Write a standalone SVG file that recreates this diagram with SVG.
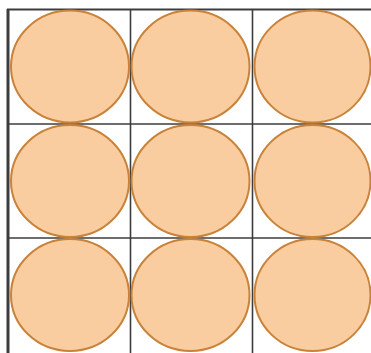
<svg xmlns="http://www.w3.org/2000/svg" width="371" height="353" viewBox="0 0 371 353">
<style>
.grid{stroke:#3c3c3c;stroke-width:1.6;fill:none}
.c{fill:#f9cd9f;stroke:#c8823a;stroke-width:2}
</style>
<rect width="371" height="353" fill="#ffffff"/>
<g id="connectors">
<line class="grid" x1="8" y1="9" x2="8" y2="353" style="stroke-width:3"/>
<line class="grid" x1="130.5" y1="9" x2="130.5" y2="353"/>
<line class="grid" x1="252.5" y1="9" x2="252.5" y2="353"/>
<line class="grid" x1="7" y1="9.5" x2="371" y2="9.5" style="stroke-width:2"/>
<line class="grid" x1="7" y1="124" x2="371" y2="124"/>
<line class="grid" x1="7" y1="238" x2="371" y2="238"/>
</g>
<g id="n1"><ellipse class="c" cx="70" cy="66.5" rx="59" ry="56"/></g>
<g id="n2"><ellipse class="c" cx="190.5" cy="66.5" rx="59" ry="56"/></g>
<g id="n3"><ellipse class="c" cx="312.5" cy="66.5" rx="58" ry="56"/></g>
<g id="n4"><ellipse class="c" cx="70" cy="181" rx="59" ry="56"/></g>
<g id="n5"><ellipse class="c" cx="190.5" cy="181" rx="59" ry="56"/></g>
<g id="n6"><ellipse class="c" cx="312.5" cy="181" rx="58" ry="56"/></g>
<g id="n7"><ellipse class="c" cx="70" cy="295" rx="59" ry="56"/></g>
<g id="n8"><ellipse class="c" cx="190.5" cy="295" rx="59" ry="56"/></g>
<g id="n9"><ellipse class="c" cx="312.5" cy="295" rx="58" ry="56"/></g>
</svg>
